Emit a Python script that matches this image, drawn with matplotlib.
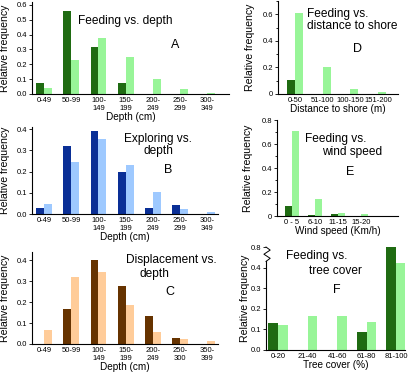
import numpy as np
import matplotlib
matplotlib.use("Agg")
import matplotlib.pyplot as plt

plt.rcParams['font.family'] = ['Liberation Sans', 'DejaVu Sans']

W, H = 412, 372

# depth panels (A, B, C)
depth_labels = ["0-49", "50-99", "100-\n149", "150-\n199", "200-\n249", "250-\n299", "300-\n349"]
depth_labels_c = ["0-49", "50-99", "100-\n149", "150-\n199", "200-\n249", "250-\n300", "350-\n399"]
feed_depth_used = [0.072, 0.56, 0.315, 0.072, 0.0, 0.0, 0.0]
feed_depth_avail = [0.043, 0.229, 0.375, 0.247, 0.099, 0.034, 0.007]
explore_used = [0.028, 0.32, 0.392, 0.196, 0.028, 0.042, 0.0]
explore_avail = [0.049, 0.243, 0.353, 0.23, 0.105, 0.024, 0.011]
disp_used = [0.0, 0.166, 0.40, 0.278, 0.134, 0.03, 0.0]
disp_avail = [0.067, 0.32, 0.342, 0.187, 0.056, 0.024, 0.014]

# distance to shore (D)
shore_labels = ["0-50", "51-100", "100-150", "151-200"]
shore_used = [0.105, 0.0, 0.0, 0.0]
shore_avail = [0.61, 0.205, 0.04, 0.018]

# wind speed (E)
wind_labels = ["0 - 5", "6-10", "11-15", "15-20"]
wind_used = [0.081, 0.008, 0.014, 0.0]
wind_avail = [0.71, 0.14, 0.022, 0.017]

# tree cover (F)
tree_labels = ["0-20", "21-40", "41-60", "61-80", "81-100"]
tree_used = [0.132, 0.0, 0.0, 0.088, 0.78]
tree_avail = [0.119, 0.166, 0.164, 0.138, 0.424]

GREEN_D, GREEN_L = "#1f6b12", "#98f598"
BLUE_D, BLUE_L = "#0a2f96", "#9ec9ff"
BROWN_D, BROWN_L = "#663300", "#ffcc99"

fig = plt.figure(figsize=(W / 100, H / 100), dpi=100)


def px_axes(left, right, top, bottom):
    return fig.add_axes([left / W, 1 - bottom / H, (right - left) / W, (bottom - top) / H])


def ftext(x, y, s, **kw):
    fig.text(x / W, 1 - y / H, s, **kw)


def style(ax, ylabel_x):
    for s in ("top", "right"):
        ax.spines[s].set_visible(False)
    for s in ("left", "bottom"):
        ax.spines[s].set_linewidth(0.8)
    ax.tick_params(axis="x", length=0, pad=2, labelsize=5.5)
    ax.tick_params(axis="y", length=2.5, width=0.6, pad=1, labelsize=5.5)
    ax.tick_params(axis="y", which="minor", length=1.5, width=0.6)
    ax.set_ylabel("Relative frequency", fontsize=7.6, labelpad=0)
    pos = ax.get_position()
    ax.yaxis.set_label_coords((ylabel_x / W - pos.x0) / pos.width, 0.5)


def pair_bars(ax, x, used, avail, cd, cl, w):
    ax.bar(x - w / 2, used, w, color=cd, linewidth=0)
    ax.bar(x + w / 2, avail, w, color=cl, linewidth=0)


def depth_panel(top, bottom, right, ytop, used, avail, cd, cl, labels, yl_x):
    ax = px_axes(32, right, top, bottom)
    x = np.arange(len(labels))
    pair_bars(ax, x, used, avail, cd, cl, 0.29)
    ax.set_xlim(-0.44, (right - 44) / 27.25)
    ax.set_ylim(0, ytop)
    ax.set_xticks(x)
    ax.set_xticklabels(labels, linespacing=1.15)
    ax.set_yticks(np.arange(0, ytop + 0.001, 0.1))
    ax.set_yticklabels([f"{v:.1f}" for v in np.arange(0, ytop + 0.001, 0.1)])
    ax.set_xlabel("Depth (cm)", fontsize=7.2, labelpad=0)
    style(ax, yl_x)
    return ax


# A
depth_panel(2, 94, 229, 0.62, feed_depth_used, feed_depth_avail, GREEN_D, GREEN_L, depth_labels, 10)
ftext(78, 21, "Feeding vs. depth", fontsize=8.6, va="center")
ftext(175, 45, "A", fontsize=9, ha="center", va="center")

# B
depth_panel(127, 214, 218, 0.41, explore_used, explore_avail, BLUE_D, BLUE_L, depth_labels, 10)
ftext(158, 145, "Exploring vs.\ndepth", fontsize=8.6, ha="center", va="center", linespacing=1.05)
ftext(168, 170, "B", fontsize=9, ha="center", va="center")

# C
depth_panel(252, 344, 218, 0.44, disp_used, disp_avail, BROWN_D, BROWN_L, depth_labels_c, 10)
ftext(126, 260, "Displacement vs.", fontsize=8.6, va="center")
ftext(154, 274, "depth", fontsize=8.6, ha="center", va="center")
ftext(170, 292, "C", fontsize=9, ha="center", va="center")

# D
ax = px_axes(278, 398, 1, 94)
x = np.arange(len(shore_labels))
pair_bars(ax, x, shore_used, shore_avail, GREEN_D, GREEN_L, 0.29)
ax.set_xlim(-0.61, 3.72)
ax.set_ylim(0, 0.7)
ax.set_xticks(x)
ax.set_xticklabels(shore_labels)
ax.set_yticks([0, 0.2, 0.4, 0.6])
ax.set_yticklabels(["0", "0.2", "0.4", "0.6"])
ax.set_yticks(np.arange(0, 0.71, 0.1), minor=True)
ax.set_xlabel("Distance to shore (m)", fontsize=7.2, labelpad=0)
style(ax, 255)
ftext(307, 20, "Feeding vs.\ndistance to shore", fontsize=8.6, va="center", linespacing=1.05)
ftext(357, 49, "D", fontsize=9, ha="center", va="center")

# E
ax = px_axes(277, 398, 120, 216)
x = np.arange(len(wind_labels))
pair_bars(ax, x, wind_used, wind_avail, GREEN_D, GREEN_L, 0.3)
ax.set_xlim(-0.65, 4.6)
ax.set_ylim(0, 0.8)
ax.set_xticks(x)
ax.set_xticklabels(wind_labels)
ax.set_yticks([0, 0.2, 0.4, 0.6, 0.8])
ax.set_yticklabels(["0", "0.2", "0.4", "0.6", "0.8"])
ax.set_yticks(np.arange(0, 0.81, 0.1), minor=True)
ax.set_xlabel("Wind speed (Km/h)", fontsize=7.2, labelpad=0.5)
style(ax, 253)
ftext(305, 139, "Feeding vs.", fontsize=8.6, va="center")
ftext(322, 152, "wind speed", fontsize=8.6, va="center")
ftext(350, 172, "E", fontsize=9, ha="center", va="center")

# F (broken y axis)
ax = px_axes(266, 405, 247, 350)
x = np.arange(len(tree_labels))
pair_bars(ax, x, tree_used, tree_avail, GREEN_D, GREEN_L, 0.33)
ax.set_xlim(-0.41, 4.3)
ax.set_ylim(0, 0.5)
ax.set_xticks(x)
ax.set_xticklabels(tree_labels)
ax.set_yticks([0, 0.1, 0.2, 0.3, 0.4, 0.5])
ax.set_yticklabels(["0.0", "0.1", "0.2", "0.3", "0.4", "0.8"])
ax.set_xlabel("Tree cover (%)", fontsize=7.2, labelpad=0)
style(ax, 250)
ax.spines["left"].set_bounds(0, 0.43)
ax.plot([0, 0.03, -0.015, 0.03, 0], [1.0, 0.97, 0.93, 0.89, 0.86],
        transform=ax.transAxes, color="black", lw=0.7, clip_on=False)
ftext(286, 256, "Feeding vs.", fontsize=8.6, va="center")
ftext(309, 271, "tree cover", fontsize=8.6, va="center")
ftext(337, 290, "F", fontsize=9, ha="center", va="center")

fig.savefig("out.png", dpi=100)
